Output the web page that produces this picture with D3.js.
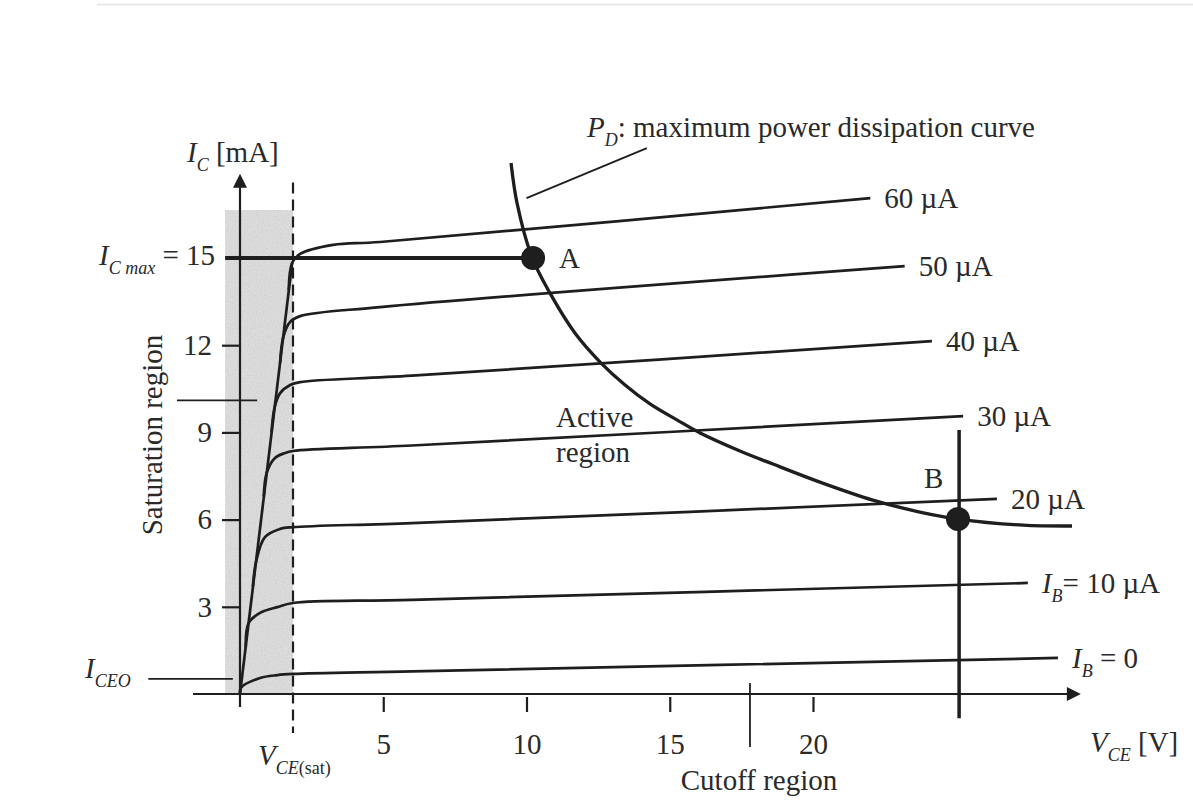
<!DOCTYPE html>
<html>
<head>
<meta charset="utf-8">
<script src="https://cdn.jsdelivr.net/npm/d3@7"></script>
<style>
  html, body { margin: 0; padding: 0; background: #fff; }
  svg { display: block; }
  text { font-family: "Liberation Serif", "DejaVu Serif", serif; fill: #2a2a2a; }
</style>
</head>
<body>
<div class="content"></div>
<script>
///////////////////////////////////////////////////////////////////
//DATA (V in volts, I in mA)/////////////////

var xTicks = [5, 10, 15, 20];
var yTicks = [3, 6, 9, 12];
var icMax = 15;
var vceSat = 1.85;

var satLine   = [[0, 0], [1.82, 14.83]];
var ib0Curve  = [[0.0, 0.0], [0.03, 0.21], [0.7, 0.55], [1.3, 0.65], [1.85, 0.69], [6, 0.78], [28.55, 1.24]];
var ib10Curve = [[0.2, 1.6], [0.3, 2.44], [0.7, 2.79], [1.3, 2.99], [1.85, 3.13], [6, 3.24], [27.5, 3.82]];
var ib20Curve = [[0.45, 3.7], [0.56, 4.54], [0.87, 5.4], [1.4, 5.68], [1.85, 5.74], [6, 5.88], [26.42, 6.71]];
var ib30Curve = [[0.83, 6.8], [0.93, 7.6], [1.22, 8.12], [1.57, 8.29], [1.85, 8.36], [6, 8.55], [25.24, 9.56]];
var ib40Curve = [[1.1, 9.0], [1.21, 9.87], [1.4, 10.35], [1.75, 10.63], [2.1, 10.73], [6, 10.95], [24.15, 12.14]];
var ib50Curve = [[1.4, 11.4], [1.51, 12.28], [1.75, 12.8], [2.1, 13.0], [4.89, 13.31], [23.2, 14.72]];
var ib60Curve = [[1.7, 13.9], [1.82, 14.83], [2.1, 15.14], [3.25, 15.45], [4.89, 15.55], [22.0, 17.06]];

var ibCurves = [ib0Curve, ib10Curve, ib20Curve, ib30Curve, ib40Curve, ib50Curve, ib60Curve];
var ibLabels = [
  [{t: "I", it: 1}, {t: "B", it: 1, sub: 1}, {t: " = 0"}],
  [{t: "I", it: 1}, {t: "B", it: 1, sub: 1}, {t: "= 10 µA"}],
  [{t: "20 µA"}],
  [{t: "30 µA"}],
  [{t: "40 µA"}],
  [{t: "50 µA"}],
  [{t: "60 µA"}]
];

var pdCurve = [[9.46, 18.27], [9.67, 16.89], [10.19, 15.03], [10.82, 13.79], [11.69, 12.42], [12.57, 11.42],
               [13.44, 10.63], [14.31, 9.98], [15.25, 9.43], [16.06, 8.98], [17.45, 8.36], [18.6, 7.91],
               [20.24, 7.29], [22.09, 6.67], [23.73, 6.26], [25.06, 6.02], [27.33, 5.81], [29.04, 5.78]];

var pointA = [10.23, 15];
var pointB = [25.06, 6.02];
var loadLineB = [[25.1, 9.08], [25.1, -0.83]];
var cutoffMark = [[17.8, 0.38], [17.8, -1.82]];
var satMark = [[-2.2, 10.1], [0.6, 10.1]];
var iceoMark = [[-3.2, 0.52], [-0.25, 0.52]];
var pdPointer = [[10.0, 17.06], [14.2, 18.78]];
var satRegion = {v0: -0.52, v1: 1.85, i1: 16.65};

///////////////////////////////////////////////////////////////////
//SETUP////////////////////////////////////////////////////////////
var width = 1193;
var height = 803;

var xScale = d3.scaleLinear().domain([0, 20]).range([240, 813]);
var yScale = d3.scaleLinear().domain([0, 15]).range([694, 258]);

var ink = "#1e1e1e";

var svg = d3.select(".content").append("svg")
  .attr("width", width).attr("height", height);

// speckled grey like the scanned screen tone
var grain = svg.append("defs").append("filter").attr("id", "grain")
  .attr("x", 0).attr("y", 0).attr("width", "100%").attr("height", "100%");
grain.append("feTurbulence").attr("type", "fractalNoise").attr("baseFrequency", 0.85)
  .attr("numOctaves", 2).attr("seed", 4).attr("result", "n");
grain.append("feColorMatrix").attr("in", "n").attr("type", "matrix")
  .attr("values", "0 0 0 0 0.6  0 0 0 0 0.6  0 0 0 0 0.6  0 0 0 1.6 -0.55").attr("result", "g");
grain.append("feComposite").attr("in", "g").attr("in2", "SourceGraphic").attr("operator", "in").attr("result", "gm");
var merge = grain.append("feMerge");
merge.append("feMergeNode").attr("in", "SourceGraphic");
merge.append("feMergeNode").attr("in", "gm");

var line = d3.line()
  .x(function(d){ return xScale(d[0]); })
  .y(function(d){ return yScale(d[1]); });
var smooth = d3.line()
  .x(function(d){ return xScale(d[0]); })
  .y(function(d){ return yScale(d[1]); })
  .curve(d3.curveCatmullRom.alpha(0.5));

// faint scan edge at the top
svg.append("line").attr("x1", 97).attr("x2", width).attr("y1", 4.5).attr("y2", 4.5)
  .attr("stroke", "#e4e4e4").attr("stroke-width", 1.5);

//SATURATION SHADING//////////////////////////////////////////////
svg.append("rect")
  .attr("x", xScale(satRegion.v0))
  .attr("y", yScale(satRegion.i1))
  .attr("width", xScale(satRegion.v1) - xScale(satRegion.v0))
  .attr("height", yScale(0) - yScale(satRegion.i1))
  .attr("fill", "#dedede")
  .attr("filter", "url(#grain)");

//AXES/////////////////////////////////////////////////////////////
var yAxis = svg.append("g").attr("class", "y-axis")
  .attr("transform", "translate(" + xScale(0) + ",0)")
  .call(d3.axisLeft(yScale).tickValues(yTicks).tickSize(18).tickPadding(10));
var xAxis = svg.append("g").attr("class", "x-axis")
  .attr("transform", "translate(0," + (yScale(0) + 3) + ")")
  .call(d3.axisBottom(xScale).tickValues(xTicks).tickSize(15).tickPadding(21));

[yAxis, xAxis].forEach(function(ax){
  ax.select(".domain").remove();
  ax.selectAll(".tick line").attr("stroke", ink).attr("stroke-width", 2.2);
  ax.selectAll(".tick text").attr("font-size", 29).attr("fill", "#2a2a2a")
    .attr("font-family", "Liberation Serif, DejaVu Serif, serif");
});

// axis lines with arrow heads
svg.append("path").attr("d", line([[0, -0.45], [0, 17.6]]))
  .attr("stroke", ink).attr("stroke-width", 2.2).attr("fill", "none");
svg.append("path")
  .attr("d", "M" + xScale(0) + "," + (yScale(17.9)) + "l-7,14l14,0z")
  .attr("fill", ink);
svg.append("path").attr("d", line([[-1.64, 0], [28.9, 0]]))
  .attr("stroke", ink).attr("stroke-width", 2.2).attr("fill", "none");
svg.append("path")
  .attr("d", "M" + xScale(29.35) + "," + yScale(0) + "l-14,-7l0,14z")
  .attr("fill", ink);

// V_CE(sat) dashed line
svg.append("path").attr("d", line([[vceSat, 17.6], [vceSat, -1.34]]))
  .attr("stroke", ink).attr("stroke-width", 2.2).attr("stroke-dasharray", "11,6").attr("fill", "none");

//CURVES///////////////////////////////////////////////////////////
svg.append("path").attr("d", line(satLine))
  .attr("stroke", ink).attr("stroke-width", 2.7).attr("fill", "none");

svg.append("g").attr("class", "ib-curves")
  .selectAll("path").data(ibCurves)
  .enter().append("path")
  .attr("d", function(d){ return smooth(d); })
  .attr("stroke", ink).attr("stroke-width", 2.7).attr("fill", "none");

// I_C max line
svg.append("path").attr("d", line([[satRegion.v0, icMax], [pointA[0], icMax]]))
  .attr("stroke", ink).attr("stroke-width", 4).attr("fill", "none");

// power dissipation curve
svg.append("path").attr("d", smooth(pdCurve))
  .attr("stroke", ink).attr("stroke-width", 3.3).attr("fill", "none");

// marks and pointers
svg.append("path").attr("d", line(loadLineB))
  .attr("stroke", ink).attr("stroke-width", 3.5).attr("fill", "none");
[cutoffMark, satMark, iceoMark, pdPointer].forEach(function(m){
  svg.append("path").attr("d", line(m))
    .attr("stroke", ink).attr("stroke-width", 1.8).attr("fill", "none");
});

svg.append("g").selectAll("circle").data([pointA, pointB])
  .enter().append("circle")
  .attr("cx", function(d){ return xScale(d[0]); })
  .attr("cy", function(d){ return yScale(d[1]); })
  .attr("r", 12).attr("fill", ink);

//TEXT/////////////////////////////////////////////////////////////
function rich(parts, x, y, anchor){
  var t = svg.append("text").attr("x", x).attr("y", y)
    .attr("font-size", 29).attr("text-anchor", anchor || "start");
  var shift = 0;
  parts.forEach(function(p){
    var s = t.append("tspan").text(p.t);
    var target = p.sub ? 9 : 0;
    if (target !== shift){ s.attr("dy", target - shift); shift = target; }
    if (p.sub) s.attr("font-size", 18);
    if (p.it) s.attr("font-style", "italic");
  });
  return t;
}

ibCurves.forEach(function(c, i){
  var end = c[c.length - 1];
  rich(ibLabels[i], xScale(end[0]) + 14, yScale(end[1]) + 10);
});

rich([{t: "I", it: 1}, {t: "C", it: 1, sub: 1}, {t: " [mA]"}], 187, 162);
rich([{t: "V", it: 1}, {t: "CE", it: 1, sub: 1}, {t: " [V]"}], 1090, 752);
rich([{t: "I", it: 1}, {t: "C max", it: 1, sub: 1}, {t: " = 15"}], 215, 265, "end");
rich([{t: "I", it: 1}, {t: "CEO", it: 1, sub: 1}], 85, 678);
rich([{t: "V", it: 1}, {t: "CE", it: 1, sub: 1}, {t: "(sat)", sub: 1}], 258, 765);
rich([{t: "P", it: 1}, {t: "D", it: 1, sub: 1}, {t: ": maximum power dissipation curve"}], 587, 137);

svg.append("text").attr("x", 759).attr("y", 790).attr("font-size", 29)
  .attr("text-anchor", "middle").text("Cutoff region");
svg.append("text").attr("x", 556).attr("y", 427).attr("font-size", 29).text("Active");
svg.append("text").attr("x", 556).attr("y", 462).attr("font-size", 29).text("region");
svg.append("text").attr("x", xScale(pointA[0]) + 26).attr("y", yScale(pointA[1]) + 10)
  .attr("font-size", 29).text("A");
svg.append("text").attr("x", 924).attr("y", 488).attr("font-size", 29).text("B");
svg.append("text").attr("transform", "translate(162,435) rotate(-90)")
  .attr("font-size", 29).attr("text-anchor", "middle").text("Saturation region");
</script>
</body>
</html>
